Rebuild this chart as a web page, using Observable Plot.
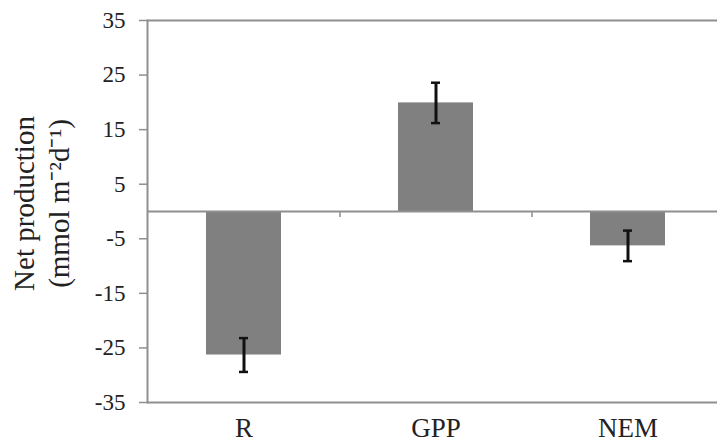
<!DOCTYPE html>
<html><head><meta charset="utf-8">
<script src="https://cdn.jsdelivr.net/npm/d3@7"></script>
<script src="https://cdn.jsdelivr.net/npm/@observablehq/plot@0.6"></script>
<style>body{margin:0;background:#fff}</style>
</head><body><div id="chart"></div>
<script>
const categories = ["R", "GPP", "NEM"];
const values = [-26.3, 19.9, -6.3];
const errors = [3.1, 3.7, 2.8];
const yTicks = [35, 25, 15, 5, -5, -15, -25, -35];
const yTitle = ["Net production", "(mmol m\u207B\u00B2d\u207B\u00B9)"];
const boundaries = ["GPP", "NEM"];

const data = categories.map((c, i) => ({cat: c, value: values[i], err: errors[i]}));
const axisColor = "#8f8f8f";

const chart = Plot.plot({
  width: 717, height: 443,
  marginTop: 20, marginBottom: 41, marginLeft: 147, marginRight: 0,
  style: {fontFamily: "'Liberation Serif', 'Times New Roman', serif", fontSize: "23px", background: "#fff", color: "#222"},
  x: {domain: categories, range: [147, 723], paddingInner: 0.61, paddingOuter: 0.305, label: null},
  y: {domain: [-35, 35], label: null},
  marks: [
    Plot.barY(data, {x: "cat", y: "value", fill: "#808080"}),
    Plot.ruleY([-35, 0, 35], {stroke: axisColor, strokeWidth: 2}),
    Plot.frame({anchor: "left", stroke: axisColor, strokeWidth: 2}),
    Plot.ruleX(boundaries, {x: d => d, dx: -96, y1: 0, y2: 0, insetBottom: -6, stroke: axisColor, strokeWidth: 1.5}),
    Plot.ruleX(data, {x: "cat", y1: d => d.value - d.err, y2: d => d.value + d.err, stroke: "#111", strokeWidth: 3}),
    Plot.tickY(data, {x: "cat", y: d => d.value - d.err, insetLeft: 33, insetRight: 33, stroke: "#111", strokeWidth: 2.5}),
    Plot.tickY(data, {x: "cat", y: d => d.value + d.err, insetLeft: 33, insetRight: 33, stroke: "#111", strokeWidth: 2.5}),
    Plot.axisY({ticks: yTicks, tickFormat: d => String(d), tickSize: 8, tickPadding: 14, stroke: axisColor, strokeWidth: 1.5, fontSize: 23, fill: "#222"}),
    Plot.axisX({tickSize: 0, tickPadding: 15, fontSize: 27, fill: "#222"}),
    Plot.text([yTitle.join("\n")], {frameAnchor: "left", textAnchor: "middle", lineAnchor: "middle", dx: -107, dy: -8, rotate: -90, fontSize: 29, lineHeight: 1.2, fill: "#222"})
  ]
});
document.getElementById("chart").appendChild(chart);
</script>
</body></html>
